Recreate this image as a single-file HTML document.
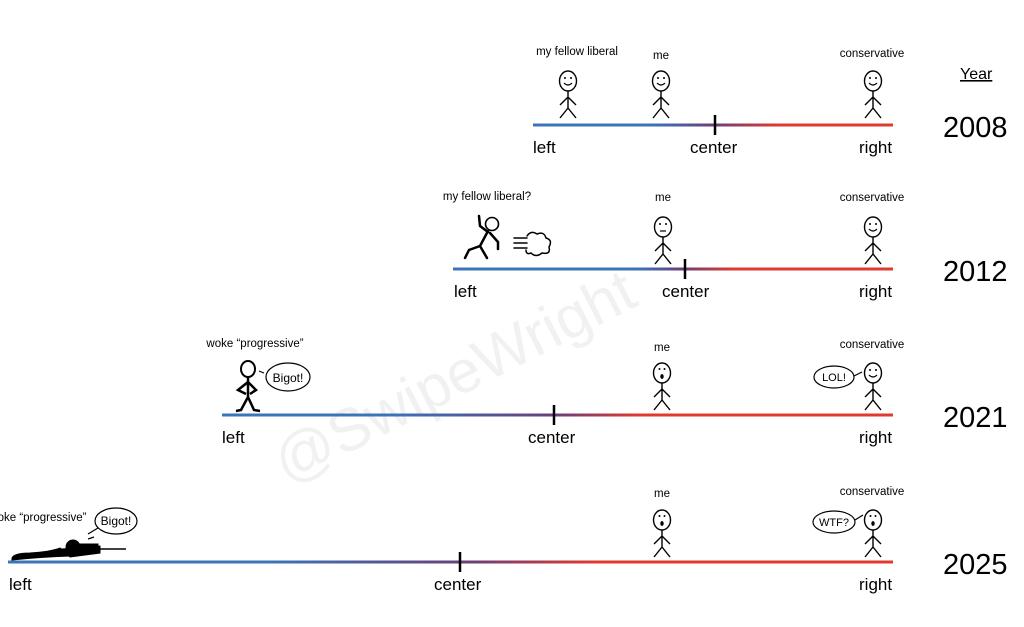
<!DOCTYPE html>
<html><head><meta charset="utf-8"><style>
html,body{margin:0;padding:0;background:#fff;}
svg{display:block;font-family:"Liberation Sans",sans-serif;}
</style></head><body>
<svg width="1024" height="627" viewBox="0 0 1024 627" xmlns="http://www.w3.org/2000/svg">
<defs>
<linearGradient id="g1" gradientUnits="userSpaceOnUse" x1="533" x2="893" y1="0" y2="0">
<stop offset="0.33" stop-color="#3b74b9"/><stop offset="0.5" stop-color="#6a3f7a"/><stop offset="0.68" stop-color="#e0392f"/></linearGradient>
<linearGradient id="g2" gradientUnits="userSpaceOnUse" x1="453" x2="893" y1="0" y2="0">
<stop offset="0.42" stop-color="#3b74b9"/><stop offset="0.52" stop-color="#6a3f7a"/><stop offset="0.64" stop-color="#e0392f"/></linearGradient>
<linearGradient id="g3" gradientUnits="userSpaceOnUse" x1="222" x2="893" y1="0" y2="0">
<stop offset="0.25" stop-color="#3b74b9"/><stop offset="0.5" stop-color="#6a3f7a"/><stop offset="0.62" stop-color="#e0392f"/></linearGradient>
<linearGradient id="g4" gradientUnits="userSpaceOnUse" x1="8" x2="893" y1="0" y2="0">
<stop offset="0.3" stop-color="#3b74b9"/><stop offset="0.52" stop-color="#6a3f7a"/><stop offset="0.66" stop-color="#e0392f"/></linearGradient>
<g id="body" fill="none" stroke="#000" stroke-width="1.4">
<ellipse cx="0" cy="-42" rx="8.5" ry="10"/>
<path d="M0,-32V-15M0,-26L-8,-18M0,-26L8,-18M0,-15L-8,-5M0,-15L8,-5"/>
</g>
<g id="smile"><use href="#body"/><circle cx="-3" cy="-45" r="1"/><circle cx="3" cy="-45" r="1"/><path d="M-4,-40Q0,-36 4,-40" fill="none" stroke="#000" stroke-width="1.2"/></g>
<g id="flat"><use href="#body"/><circle cx="-3" cy="-45" r="1"/><circle cx="3" cy="-45" r="1"/><path d="M-3,-38H3" stroke="#000" stroke-width="1.2"/></g>
<g id="oh"><use href="#body"/><circle cx="-2.5" cy="-46" r="1"/><circle cx="2.5" cy="-46" r="1"/><ellipse cx="0" cy="-38.5" rx="1.7" ry="2.4"/></g>
</defs>

<text x="460" y="400" font-size="60" fill="#f1f1f1" transform="rotate(-27 450 390)" text-anchor="middle">@SwipeWright</text>

<text x="960" y="79" font-size="16" text-decoration="underline">Year</text>
<g font-size="29"><text x="943" y="137">2008</text><text x="943" y="281">2012</text><text x="943" y="427">2021</text><text x="943" y="574">2025</text></g>

<g stroke-width="3">
<line x1="533" y1="125" x2="893" y2="125" stroke="url(#g1)"/>
<line x1="453" y1="269" x2="893" y2="269" stroke="url(#g2)"/>
<line x1="222" y1="415" x2="893" y2="415" stroke="url(#g3)"/>
<line x1="8" y1="562" x2="893" y2="562" stroke="url(#g4)"/>
</g>
<g stroke="#000" stroke-width="2.5">
<line x1="715" y1="115" x2="715" y2="135"/><line x1="685" y1="259" x2="685" y2="279"/>
<line x1="554" y1="405" x2="554" y2="425"/><line x1="460" y1="552" x2="460" y2="572"/>
</g>
<g font-size="17">
<text x="533" y="153">left</text><text x="690" y="153">center</text><text x="859" y="153">right</text>
<text x="454" y="297">left</text><text x="662" y="297">center</text><text x="859" y="297">right</text>
<text x="222" y="443">left</text><text x="528" y="443">center</text><text x="859" y="443">right</text>
<text x="9" y="590">left</text><text x="434" y="590">center</text><text x="859" y="590">right</text>
</g>
<g font-size="11.5" text-anchor="middle">
<text x="577" y="55">my fellow liberal</text><text x="661" y="59">me</text><text x="872" y="57">conservative</text>
<text x="487" y="200">my fellow liberal?</text><text x="663" y="201">me</text><text x="872" y="201">conservative</text>
<text x="255" y="347">woke “progressive”</text><text x="662" y="351">me</text><text x="872" y="348">conservative</text>
<text x="42" y="521">oke “progressive”</text><text x="662" y="497">me</text><text x="872" y="495">conservative</text>
</g>

<use href="#smile" x="568" y="123"/><use href="#smile" x="661" y="123"/><use href="#smile" x="873" y="123"/>
<use href="#flat" x="663" y="269"/><use href="#smile" x="873" y="269"/>
<use href="#oh" x="662" y="415"/><use href="#smile" x="873" y="415"/>
<use href="#oh" x="662" y="562"/><use href="#oh" x="873" y="562"/>

<!-- running figure -->
<g fill="none" stroke="#000" stroke-width="2.5" stroke-linecap="round">
<circle cx="492" cy="224" r="6.5" stroke-width="1.6"/>
<path d="M488,231L480,246L487,258"/><path d="M480,246L469,250L465,258"/>
<path d="M488,232L480,226L479,216"/><path d="M490,233L498,242L498,249"/>
<path d="M514,238H527M514,243H527M514,248H527" stroke-width="1.5"/>
<path d="M527,236Q531,230 537,234Q544,231 546,238Q553,240 549,247Q551,255 542,253Q536,258 531,253Q526,255 526,250" stroke-width="1.5"/>
</g>

<!-- woke standing figure -->
<g fill="none" stroke="#000" stroke-width="2.5">
<ellipse cx="248" cy="369" rx="7" ry="8" stroke-width="2"/>
<path d="M248,377V397M248,382L238,390L246,394M248,382L256,390L250,394M248,397L241,410L236,411M248,397L254,410L260,411"/>
<path d="M259,371L264,373" stroke-width="1.2"/>
</g>
<ellipse cx="288" cy="377" rx="22" ry="14" fill="#fff" stroke="#000" stroke-width="1.2"/>
<text x="288" y="382" font-size="12" text-anchor="middle">Bigot!</text>

<ellipse cx="834" cy="377" rx="20" ry="11" fill="#fff" stroke="#000" stroke-width="1.2"/>
<path d="M854,376L862,372" stroke="#000" stroke-width="1.2"/>
<text x="834" y="381" font-size="11" text-anchor="middle">LOL!</text>

<ellipse cx="834" cy="522" rx="21" ry="11" fill="#fff" stroke="#000" stroke-width="1.2"/>
<path d="M855,520L863,515" stroke="#000" stroke-width="1.2"/>
<text x="834" y="526" font-size="11" text-anchor="middle">WTF?</text>

<!-- prone sniper -->
<g fill="#000" stroke="#000">
<path d="M12,558Q14,553 30,553Q50,552 60,548L66,552L70,556Q40,557 12,560Z"/>
<circle cx="73" cy="547" r="7"/>
<path d="M62,549L100,546L100,553L70,557Z"/>
<path d="M80,544H98V548H80Z"/>
<path d="M95,549H126" stroke-width="1.5"/>
<path d="M88,539L94,537" stroke-width="1.2" fill="none"/>
</g>
<ellipse cx="116" cy="521" rx="21" ry="13" fill="#fff" stroke="#000" stroke-width="1.2"/>
<path d="M98,528L88,534" stroke="#000" stroke-width="1.2"/>
<text x="116" y="525" font-size="12" text-anchor="middle">Bigot!</text>
</svg>
</body></html>
